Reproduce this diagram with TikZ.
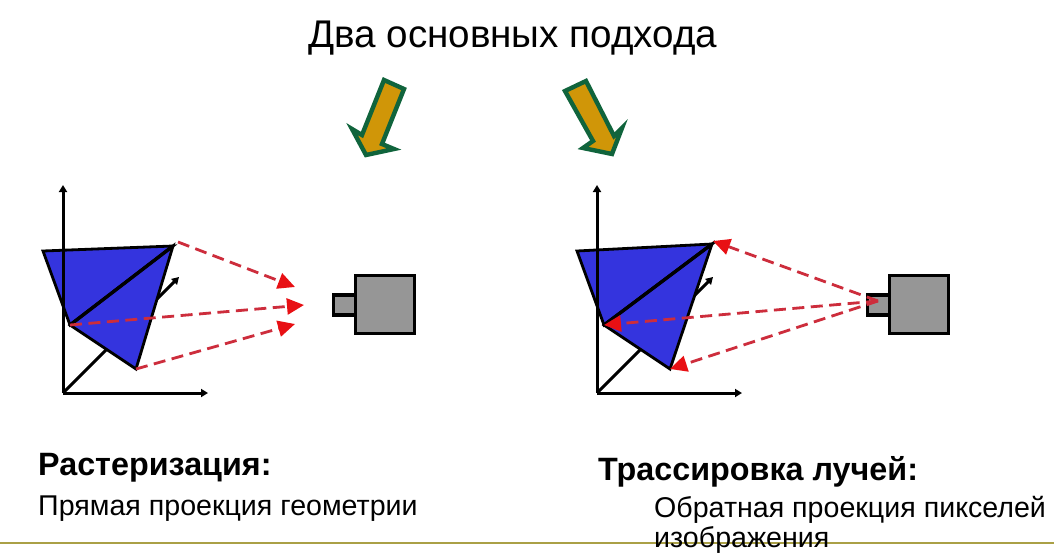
\documentclass[tikz,border=0pt]{standalone}
\usepackage{fontspec}
\setmainfont{Liberation Sans}
\usetikzlibrary{arrows.meta}
\definecolor{triblue}{RGB}{52,52,222}
\definecolor{raycol}{RGB}{205,45,60}
\definecolor{rayhead}{RGB}{232,16,20}
\definecolor{camgrey}{RGB}{150,150,150}
\definecolor{arrgreen}{RGB}{16,100,60}
\definecolor{arrgold}{RGB}{208,150,8}
\definecolor{rulecol}{RGB}{170,160,70}
\tikzset{
  x=1pt,y=-1pt,
  axisline/.style={draw=black,line width=3pt,-{Triangle[length=7pt,width=8pt]}},
  tri/.style={draw=black,fill=triblue,line width=2.8pt,line join=miter},
  edgeline/.style={draw=black,line width=3.4pt},
  ray/.style={draw=raycol,line width=2.8pt,dash pattern=on 12pt off 6.5pt,-{Triangle[length=17pt,width=16pt,color=rayhead,fill=rayhead]}},
  camera/.style={draw=black,fill=camgrey,line width=3.2pt,inner sep=0pt,minimum width=#1,anchor=north west},
  bigarrow/.style={draw=arrgreen,fill=arrgold,line width=4.4pt,line join=miter,miter limit=6},
  txt/.style={anchor=base west,inner sep=0pt,text=black},
  headtxt/.style={txt,font=\fontsize{32.3}{36}\selectfont\bfseries},
  bodytxt/.style={txt,font=\fontsize{28.6}{32}\selectfont},
}
\begin{document}
\begin{tikzpicture}
\useasboundingbox (0,0) rectangle (1054,554);
\fill[white] (0,0) rectangle (1054,554);
% title
\node[txt,font=\fontsize{38.6}{42}\selectfont] (title) at (308,47) {Два основных подхода};
% big arrows
\draw[bigarrow] (384,80) -- (404,89) -- (382,144) -- (394,149) -- (366,155) -- (352,129) -- (362,135) -- cycle;
\draw[bigarrow] (565,91) -- (586,81) -- (614,136) -- (622,128) -- (612,154) -- (583,148) -- (593,141) -- cycle;
% left scene
\coordinate (lo) at (63,393);
\coordinate (ly) at (63,185);
\coordinate (lx) at (208,393);
\coordinate (lz) at (179,277);
\coordinate (la) at (43,251);
\coordinate (lb) at (173,246);
\coordinate (lc) at (70,325);
\coordinate (ld) at (136,369);
\coordinate (lbr) at (178,242);
\coordinate (lt1) at (295,287);
\coordinate (lt2) at (304,305);
\coordinate (lt3) at (295,324);
\draw[axisline] (lo) -- (lz);
\draw[axisline] (lo) -- (lx);
\draw[tri] (la) -- (lb) -- (lc) -- cycle;
\draw[axisline] (lo) -- (ly);
\draw[tri] (lb) -- (lc) -- (ld) -- cycle;
\draw[edgeline] (lc) -- (lb);
\draw[ray] (lbr) -- (lt1);
\draw[ray] (lc) -- (lt2);
\draw[ray] (ld) -- (lt3);
\node[camera=59pt,minimum height=58pt] (lcam) at (354,274) {};
\node[camera=22.5pt,minimum height=20pt] (llens) at (331.5,293.3) {};
% right scene
\coordinate (ro) at (597,393);
\coordinate (ry) at (597,185);
\coordinate (rx) at (742,393);
\coordinate (rz) at (713,277);
\coordinate (ra) at (577,251);
\coordinate (rb) at (712,244);
\coordinate (rc) at (604,325);
\coordinate (rd) at (670,369);
\coordinate (rbr) at (713,241);
\coordinate (rs) at (878,301);
\draw[axisline] (ro) -- (rz);
\draw[axisline] (ro) -- (rx);
\draw[tri] (ra) -- (rb) -- (rc) -- cycle;
\draw[axisline] (ro) -- (ry);
\draw[tri] (rb) -- (rc) -- (rd) -- cycle;
\draw[edgeline] (rc) -- (rb);
\node[camera=59pt,minimum height=58pt] (rcam) at (888,274) {};
\node[camera=22.5pt,minimum height=20pt] (rlens) at (865.5,293.3) {};
\draw[ray] (rs) -- (rbr);
\draw[ray] (rs) -- (rc);
\draw[ray] (rs) -- (rd);
% texts
\node[headtxt] (h1) at (38,475) {Растеризация:};
\node[bodytxt] (b1) at (38,515) {Прямая проекция геометрии};
\node[headtxt] (h2) at (598,480.5) {Трассировка лучей:};
% footer rule
\coordinate (fl) at (0,543);
\coordinate (fr) at (1054,543);
\draw[draw=rulecol,line width=2.6pt] (fl) -- (fr);
\node[bodytxt] (b2) at (654,517) {Обратная проекция пикселей};
\node[bodytxt] (b3) at (654,547.5) {изображения};
\end{tikzpicture}
\end{document}
